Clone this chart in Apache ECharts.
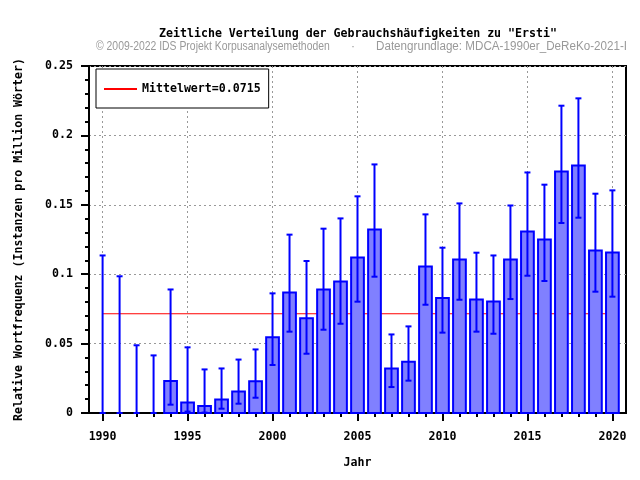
<!DOCTYPE html>
<html>
<head>
<meta charset="utf-8">
<script src="https://cdn.jsdelivr.net/npm/echarts@6/dist/echarts.min.js"></script>
<style>
html,body{margin:0;padding:0;background:#fff;}
#chart{width:640px;height:480px;}
</style>
</head>
<body>
<div id="chart"></div>
<script>
const years = [1990,1991,1992,1993,1994,1995,1996,1997,1998,1999,2000,2001,2002,2003,2004,2005,2006,2007,2008,2009,2010,2011,2012,2013,2014,2015,2016,2017,2018,2019,2020];
const values = [0,0,0,0,0.023,0.0075,0.005,0.0098,0.0155,0.0228,0.0545,0.0868,0.0682,0.089,0.0947,0.112,0.1322,0.032,0.037,0.1055,0.0828,0.1106,0.0818,0.0803,0.1106,0.1307,0.125,0.174,0.1783,0.1171,0.1156];
const upper = [0.1135,0.0985,0.0488,0.0415,0.089,0.0473,0.0314,0.0321,0.0385,0.0458,0.0862,0.1285,0.1095,0.1328,0.1402,0.1561,0.1791,0.0566,0.0624,0.1431,0.1191,0.151,0.1155,0.1135,0.1495,0.1733,0.1645,0.2214,0.2267,0.158,0.1604];
const lower = [0,0,0,0,0.006,0.001,0.0003,0.0031,0.0067,0.011,0.0346,0.0586,0.0427,0.060,0.0643,0.0802,0.0982,0.0187,0.0233,0.078,0.0579,0.0816,0.0586,0.0571,0.0821,0.0989,0.0951,0.1369,0.1407,0.0874,0.0838];
const meanValue = 0.0715;
const majorYears = [1990,1995,2000,2005,2010,2015,2020];

const titleText = 'Zeitliche Verteilung der Gebrauchshäufigkeiten zu "Ersti"';
const subLeft = '© 2009-2022 IDS Projekt Korpusanalysemethoden';
const subRight = 'Datengrundlage: MDCA-1990er_DeReKo-2021-I';
const legendName = 'Mittelwert=' + meanValue;

const MONO = '"DejaVu Sans Mono", monospace';
const FS = 11.6;
const BLUE = '#0000ff';
const SUBFONT = '"Liberation Sans",sans-serif';

const data = years.map((y,i)=>[y, values[i], lower[i], upper[i]]);

const chart = echarts.init(document.getElementById('chart'), null, {renderer:'canvas'});
chart.setOption({
  animation:false,
  backgroundColor:'#fff',
  title:{
    text:titleText,
    left:358, top:28, textAlign:'center', padding:0,
    textStyle:{fontFamily:MONO, fontWeight:'bold', fontSize:FS, color:'#000'}
  },
  graphic:[
    {type:'text', x:96, y:41, scaleX:0.867, style:{text:subLeft, fontFamily:SUBFONT, fontSize:12, fill:'#999'}},
    {type:'text', x:351, y:41, style:{text:'·', fontFamily:SUBFONT, fontSize:12, fill:'#999'}},
    {type:'text', x:376, y:41, scaleX:0.97, style:{text:subRight, fontFamily:SUBFONT, fontSize:12, fill:'#999'}}
  ],
  legend:{
    left:96, top:69,
    orient:'vertical',
    padding:[14,8,13,7],
    borderColor:'#000', borderWidth:1, backgroundColor:'#fff',
    itemWidth:33, itemHeight:12,
    itemStyle:{opacity:0},
    textStyle:{fontFamily:MONO, fontWeight:'bold', fontSize:FS, color:'#000'},
    data:[{name:legendName}]
  },
  grid:{left:89, top:66, width:537, height:347, show:true, borderColor:'#000', borderWidth:2, containLabel:false},
  xAxis:[{
    type:'value', min:1989.2, max:2020.8,
    name:'Jahr', nameLocation:'middle', nameGap:44,
    nameTextStyle:{fontFamily:MONO, fontWeight:'bold', fontSize:FS, color:'#000'},
    axisLine:{show:true, lineStyle:{color:'#000', width:2}},
    axisTick:{show:true, customValues:majorYears, length:8, lineStyle:{color:'#000', width:2}},
    axisLabel:{customValues:majorYears, margin:18, fontFamily:MONO, fontWeight:'bold', fontSize:FS, color:'#000', formatter:v=>String(v)},
    splitLine:{show:true, lineStyle:{color:'#999', width:1, type:[2,3]}}
  },{
    type:'value', min:1989.2, max:2020.8, position:'bottom',
    axisLine:{show:false},
    axisTick:{show:true, customValues:years, length:4, lineStyle:{color:'#000', width:2}},
    axisLabel:{show:false},
    splitLine:{show:false}
  }],
  yAxis:{
    type:'value', min:0, max:0.25, interval:0.05,
    name:'Relative Wortfrequenz (Instanzen pro Million Wörter)',
    nameLocation:'middle', nameGap:64,
    nameTextStyle:{fontFamily:MONO, fontWeight:'bold', fontSize:FS, color:'#000'},
    axisLine:{show:true, lineStyle:{color:'#000', width:2}},
    axisTick:{show:true, length:8, lineStyle:{color:'#000', width:2}},
    minorTick:{show:true, splitNumber:5, length:4, lineStyle:{color:'#000', width:2}},
    axisLabel:{margin:16, fontFamily:MONO, fontWeight:'bold', fontSize:FS, color:'#000', formatter:v=>String(+v.toFixed(2))},
    splitLine:{show:true, lineStyle:{color:'#999', width:1, type:[2,3]}}
  },
  series:[
    {
      name:legendName, type:'line', xAxisIndex:0, yAxisIndex:0, z:1,
      symbol:'none', showSymbol:false,
      lineStyle:{color:'#ff0000', width:1}, itemStyle:{color:'#ff0000'},
      data:[[years[0], meanValue],[years[years.length-1], meanValue]]
    },
    {
      type:'custom', xAxisIndex:0, yAxisIndex:0, z:3,
      data:data,
      encode:{x:0, y:[1,2,3]},
      renderItem:function(params, api){
        const x = api.value(0), v = api.value(1), lo = api.value(2), hi = api.value(3);
        const pTop = api.coord([x, v]);
        const p0 = api.coord([x, 0]);
        const pLo = api.coord([x, lo]);
        const pHi = api.coord([x, hi]);
        const w = api.size([1, 0])[0] * 0.75;
        const cap = 3;
        const children = [];
        if (v > 0) {
          children.push({type:'rect', shape:{x:pTop[0]-w/2, y:pTop[1], width:w, height:p0[1]-pTop[1]},
            style:{fill:'#8080ff', stroke:BLUE, lineWidth:2}});
        }
        children.push({type:'line', shape:{x1:pLo[0], y1:pLo[1], x2:pHi[0], y2:pHi[1]}, style:{stroke:BLUE, lineWidth:2}});
        children.push({type:'line', shape:{x1:pHi[0]-cap, y1:pHi[1], x2:pHi[0]+cap, y2:pHi[1]}, style:{stroke:BLUE, lineWidth:2}});
        children.push({type:'line', shape:{x1:pLo[0]-cap, y1:pLo[1], x2:pLo[0]+cap, y2:pLo[1]}, style:{stroke:BLUE, lineWidth:2}});
        return {type:'group', children:children};
      }
    }
  ]
});
</script>
</body>
</html>
